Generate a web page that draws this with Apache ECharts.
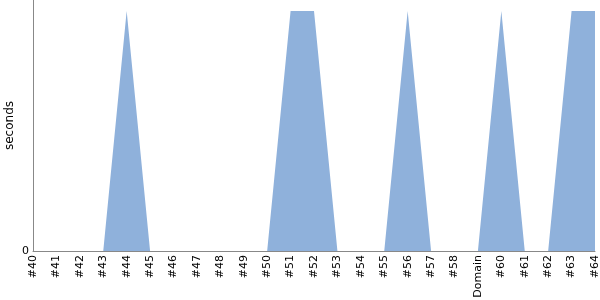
<!DOCTYPE html>
<html><head><meta charset="utf-8">
<script src="https://cdn.jsdelivr.net/npm/echarts@6/dist/echarts.min.js"></script>
<style>html,body{margin:0;padding:0;background:#fff}#c{width:600px;height:300px}</style>
</head><body><div id="c"></div>
<script>
const categories = ['#40','#41','#42','#43','#44','#45','#46','#47','#48','#49','#50','#51','#52','#53','#54','#55','#56','#57','#58','Domain','#60','#61','#62','#63','#64'];
const seconds = [0,0,0,0,1,0,0,0,0,0,0,1,1,0,0,0,1,0,0,0,1,0,0,1,1];
const yTickLabels = ['0'];
const yMax = 1.0458;
const chart = echarts.init(document.getElementById('c'));
chart.setOption({
  animation: false,
  grid: {left: 33, right: 5, top: 0, bottom: 49, containLabel: false, outerBoundsMode: 'none'},
  xAxis: {
    type: 'category', data: categories, boundaryGap: false,
    axisLine: {lineStyle: {color: '#888', width: 1}},
    axisTick: {show: false},
    axisLabel: {rotate: 90, interval: 0, fontSize: 11, color: '#000', fontFamily: 'DejaVu Sans', margin: 4}
  },
  yAxis: {
    type: 'value', min: 0, max: yMax, interval: yMax,
    name: 'seconds', nameLocation: 'middle', nameGap: 17, nameMoveOverlap: false,
    nameTextStyle: {fontSize: 12, color: '#000', fontFamily: 'DejaVu Sans'},
    axisLine: {show: true, lineStyle: {color: '#888', width: 1}},
    axisTick: {show: false},
    splitLine: {show: false},
    axisLabel: {show: false}
  },
  graphic: [{
    type: 'text', left: 22, top: 246,
    style: {text: yTickLabels[0], fontSize: 11, fill: '#000', fontFamily: 'DejaVu Sans'}
  }],
  series: [{
    type: 'line', data: seconds, symbol: 'none',
    lineStyle: {width: 0},
    areaStyle: {color: '#8fb1db', opacity: 1}
  }]
});
</script></body></html>
